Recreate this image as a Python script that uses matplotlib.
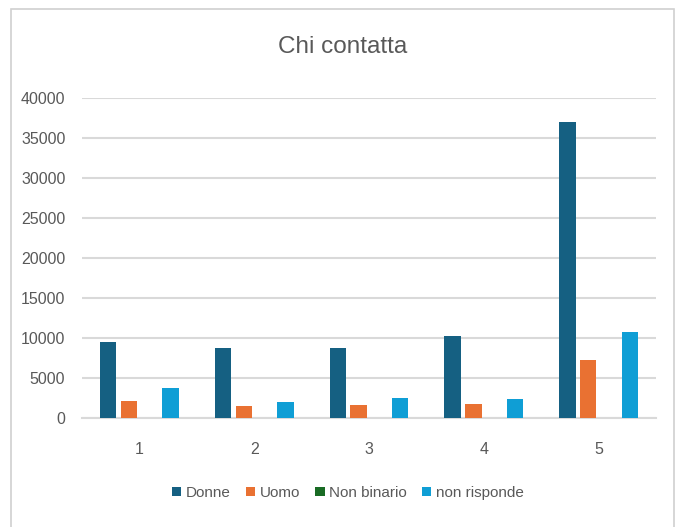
import matplotlib
matplotlib.use("Agg")
import matplotlib.pyplot as plt
from matplotlib.patches import Rectangle
from matplotlib import font_manager
import numpy as np

# Data
categories = ["1", "2", "3", "4", "5"]
series_names = ["Donne", "Uomo", "Non binario", "non risponde"]
donne = [9500, 8700, 8700, 10200, 37000]
uomo = [2100, 1500, 1600, 1800, 7300]
non_binario = [0, 0, 0, 0, 0]
non_risponde = [3700, 2000, 2500, 2400, 10800]
y_ticks = [0, 5000, 10000, 15000, 20000, 25000, 30000, 35000, 40000]

colors = ["#156082", "#E97132", "#196B24", "#0F9ED5"]
text_grey = "#595959"
grid_grey = "#d9d9d9"

available = {f.name for f in font_manager.fontManager.ttflist}
family = ["Liberation Sans Narrow", "DejaVu Sans"] if "Liberation Sans Narrow" in available \
    else ["Liberation Sans", "DejaVu Sans"]
plt.rcParams["font.family"] = family

fig = plt.figure(figsize=(6.75, 5.27), dpi=100)
W, H = 675, 527

# chart frame
fig.patches.append(Rectangle((11 / W, -0.05), (674 - 11) / W, 1.05 - 9 / H,
                             transform=fig.transFigure, fill=False,
                             edgecolor="#d0d0d0", linewidth=1.2))

ax = fig.add_axes([82 / W, (H - 418) / H, (656 - 82) / W, (418 - 98) / H])

x = np.arange(len(categories))
step = 0.181
width = 0.142
all_series = [donne, uomo, non_binario, non_risponde]
for i, (vals, name, c) in enumerate(zip(all_series, series_names, colors)):
    ax.bar(x + (i - 1.5) * step, vals, width=width, color=c, label=name, zorder=3)

ax.set_xlim(-0.5, len(categories) - 0.5)
ax.set_ylim(0, 40000)
ax.set_yticks(y_ticks)
ax.set_yticklabels([str(v) for v in y_ticks])
ax.set_xticks(x)
ax.set_xticklabels(categories)
ax.yaxis.grid(True, color=grid_grey, linewidth=1.5, zorder=0)
ax.set_axisbelow(True)
for s in ["top", "right", "left"]:
    ax.spines[s].set_visible(False)
ax.spines["bottom"].set_color(grid_grey)
ax.spines["bottom"].set_linewidth(1.5)
ax.tick_params(axis="both", length=0, colors=text_grey, labelsize=11.5)
ax.tick_params(axis="y", pad=12)
ax.tick_params(axis="x", pad=17)

fig.text(343 / W, 1 - 47 / H, "Chi contatta", ha="center", va="center",
         fontsize=17.5, color=text_grey)

leg = fig.legend(loc="center", bbox_to_anchor=(348 / W, 1 - 493 / H), ncol=4,
                 frameon=False, fontsize=11, handlelength=0.6, handleheight=0.6,
                 handletextpad=0.3, columnspacing=1.0, labelcolor=text_grey)

fig.savefig("out.png", dpi=100, facecolor="white")
